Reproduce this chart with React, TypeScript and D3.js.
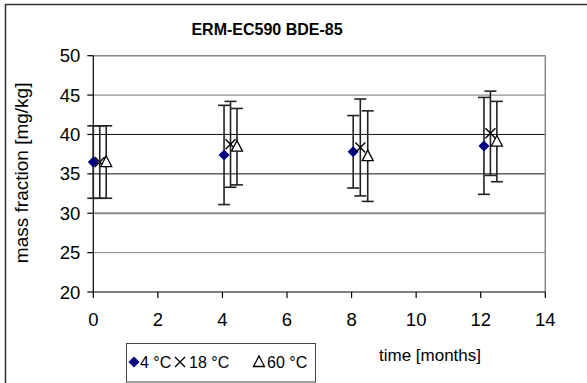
import React from "react";
import * as d3 from "d3";

const title = "ERM-EC590 BDE-85";
const yLabel = "mass fraction [mg/kg]";
const xLabel = "time [months]";
const seriesNames = ["4 °C", "18 °C", "60 °C"];

const months4 = [0, 4.05, 8.05, 12.1];
const values4 = [36.5, 37.4, 37.8, 38.55];
const errors4 = [4.6, 6.3, 4.6, 6.15];

const months18 = [0.2, 4.25, 8.27, 12.3];
const values18 = [36.5, 38.75, 38.35, 40.15];
const errors18 = [4.6, 5.45, 6.15, 5.35];

const months60 = [0.4, 4.45, 8.5, 12.5];
const values60 = [36.5, 38.45, 37.25, 39.1];
const errors60 = [4.6, 4.85, 5.75, 5.1];

const xTicks = [0, 2, 4, 6, 8, 10, 12, 14];
const yTicks = [20, 25, 30, 35, 40, 45, 50];

const W = 587;
const H = 383;
const L = 93.3, R = 545.3, T = 55.7, B = 292;

const x = d3.scaleLinear().domain([0, 14]).range([L, R]);
const y = d3.scaleLinear().domain([20, 50]).range([B, T]);

const FONT = "'Liberation Sans', Arial, sans-serif";

const gridStyle: Record<number, { stroke: string; w: number }> = {
  25: { stroke: "#888", w: 1 },
  30: { stroke: "#888", w: 2 },
  35: { stroke: "#111", w: 1 },
  40: { stroke: "#111", w: 1 },
  45: { stroke: "#777", w: 1 },
  50: { stroke: "#888", w: 1.5 },
};

function Diamond({ cx, cy }: { cx: number; cy: number }) {
  const r = 5.5;
  return (
    <path
      d={`M${cx},${cy - r}L${cx + r},${cy}L${cx},${cy + r}L${cx - r},${cy}Z`}
      fill="#000080"
    />
  );
}
function Cross({ cx, cy }: { cx: number; cy: number }) {
  const r = 5;
  return (
    <path
      d={`M${cx - r},${cy - r}L${cx + r},${cy + r}M${cx - r},${cy + r}L${cx + r},${cy - r}`}
      stroke="#000"
      strokeWidth={1.4}
      fill="none"
    />
  );
}
function Tri({ cx, cy }: { cx: number; cy: number }) {
  const r = 5.5;
  return (
    <path
      d={`M${cx},${cy - r - 0.5}L${cx + r},${cy + r - 1}L${cx - r},${cy + r - 1}Z`}
      stroke="#000"
      strokeWidth={1.3}
      fill="#fff"
    />
  );
}

function ErrBars({ xs, vs, es }: { xs: number[]; vs: number[]; es: number[] }) {
  return (
    <g stroke="#222" strokeWidth={1.6}>
      {xs.map((m, i) => {
        const px = x(m);
        const y1 = y(vs[i] + es[i]);
        const y2 = y(vs[i] - es[i]);
        return (
          <g key={i}>
            <line x1={px} x2={px} y1={y1} y2={y2} />
            <line x1={px - 6} x2={px + 6} y1={y1} y2={y1} />
            <line x1={px - 6} x2={px + 6} y1={y2} y2={y2} />
          </g>
        );
      })}
    </g>
  );
}

export default function App() {
  return (
    <svg
      width={W}
      height={H}
      style={{ position: "absolute", left: 0, top: 0, background: "#fff" }}
      fontFamily={FONT}
    >
      <rect x={0} y={0} width={W} height={H} fill="#fff" />
      <rect x={5.5} y={4.5} width={700} height={500} fill="#fff" stroke="#333" strokeWidth={1.5} />
      <text x={267} y={35} textAnchor="middle" fontSize={16} fontWeight="bold">
        {title}
      </text>

      {/* grid */}
      {yTicks
        .filter((t) => t > 20)
        .map((t) => (
          <line
            key={t}
            x1={L}
            x2={R}
            y1={y(t)}
            y2={y(t)}
            stroke={gridStyle[t].stroke}
            strokeWidth={gridStyle[t].w}
          />
        ))}
      <line x1={R} x2={R} y1={T} y2={B} stroke="#888" strokeWidth={1.5} />

      {/* axes */}
      <line x1={L} x2={L} y1={T} y2={B} stroke="#000" strokeWidth={1.2} />
      <line x1={L} x2={R} y1={B} y2={B} stroke="#000" strokeWidth={1.2} />
      {yTicks.map((t) => (
        <g key={t}>
          <line x1={L - 6} x2={L} y1={y(t)} y2={y(t)} stroke="#000" strokeWidth={1.2} />
          <text x={L - 13} y={y(t) + 6.5} textAnchor="end" fontSize={18.5}>
            {t}
          </text>
        </g>
      ))}
      {xTicks.map((t) => (
        <g key={t}>
          <line x1={x(t)} x2={x(t)} y1={B} y2={B + 6} stroke="#000" strokeWidth={1.2} />
          <text x={x(t)} y={B + 34} textAnchor="middle" fontSize={18.5}>
            {t}
          </text>
        </g>
      ))}
      <text
        transform={`translate(28,${(T + B) / 2 - 1}) rotate(-90)`}
        textAnchor="middle"
        fontSize={19}
      >
        {yLabel}
      </text>
      <text x={430} y={361} textAnchor="middle" fontSize={17}>
        {xLabel}
      </text>

      {/* series */}
      <ErrBars xs={months4} vs={values4} es={errors4} />
      {months4.map((m, i) => (
        <Diamond key={i} cx={x(m)} cy={y(values4[i])} />
      ))}
      <ErrBars xs={months18} vs={values18} es={errors18} />
      {months18.map((m, i) => (
        <Cross key={i} cx={x(m)} cy={y(values18[i])} />
      ))}
      <ErrBars xs={months60} vs={values60} es={errors60} />
      {months60.map((m, i) => (
        <Tri key={i} cx={x(m)} cy={y(values60[i])} />
      ))}

      {/* legend */}
      <rect x={126.5} y={343.5} width={189} height={38.5} fill="#fff" stroke="#444" strokeWidth={1} />
      <Diamond cx={134} cy={362} />
      <text x={140} y={368} fontSize={16}>{seriesNames[0]}</text>
      <Cross cx={180} cy={362} />
      <text x={189} y={368} fontSize={16}>{seriesNames[1]}</text>
      <Tri cx={259} cy={362} />
      <text x={267} y={368} fontSize={16}>{seriesNames[2]}</text>
    </svg>
  );
}
